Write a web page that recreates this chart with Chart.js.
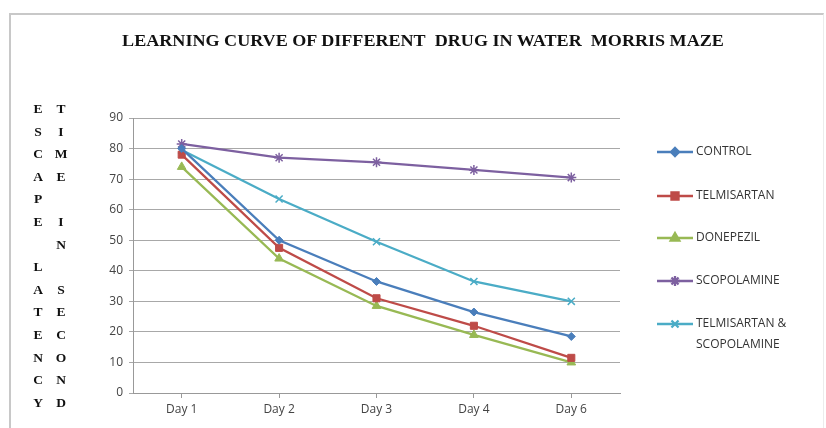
<!DOCTYPE html>
<html lang="en">
<head>
  <meta charset="UTF-8" />
  <title>Learning Curve</title>
  <script src="https://cdn.jsdelivr.net/npm/chart.js"></script>
  <style>
    body { margin: 0; background: #fff; }
    #wrap { position: relative; width: 826px; height: 428px; overflow: hidden; }
    #frame { position: absolute; left: 9px; top: 13px; width: 812px; height: 440px;
      border-left: 2px solid #c8c8c8; border-top: 2px solid #c8c8c8; border-right: 1px solid #ececec; }
    #title { position: absolute; left: 0; width: 846px; top: 32px; text-align: center;
      font: bold 16px "Liberation Serif", "DejaVu Serif", serif; color: #111;
      transform: scaleX(1.13); transform-origin: 423px 0; }
    .ylab { position: absolute; top: 98px; width: 18px; text-align: center;
      font: bold 13.5px "Liberation Serif", serif; line-height: 22.6px; color: #111; white-space: pre; }
  </style>
</head>
<body>
<div id="wrap">
  <div id="frame"></div>
  <canvas id="chart" width="826" height="428" style="position:absolute;left:0;top:0"></canvas>
  <div id="title">LEARNING CURVE OF DIFFERENT&nbsp; DRUG IN WATER&nbsp; MORRIS MAZE</div>
  <div class="ylab" id="ylab1" style="left:29px"></div>
  <div class="ylab" id="ylab2" style="left:52px"></div>
</div>
<script>
  const days = ['Day 1', 'Day 2', 'Day 3', 'Day 4', 'Day 6'];
  const control = [80, 50, 36.5, 26.5, 18.5];
  const telmisartan = [78, 47.5, 31, 22, 11.5];
  const donepezil = [74, 44, 28.5, 19, 10];
  const scopolamine = [81.5, 77, 75.5, 73, 70.5];
  const telmiScop = [79.5, 63.5, 49.5, 36.5, 30];
  const yLabel1 = 'ESCAPE LATENCY';
  const yLabel2 = 'TIME IN SECOND';

  document.getElementById('ylab1').textContent = yLabel1.split('').join('\n');
  document.getElementById('ylab2').textContent = yLabel2.split('').join('\n');

  function series(label, data, color, style, radius) {
    return {
      label, data,
      borderColor: color, backgroundColor: color,
      pointStyle: style, pointRadius: radius, pointBorderWidth: style === 'star' || style === 'crossRot' ? 1.5 : 1,
      borderWidth: 2.3, tension: 0
    };
  }

  // legend drawn on canvas so the last label can wrap over two lines
  const sideLegend = {
    id: 'sideLegend',
    afterDraw(chart) {
      const c = chart.ctx;
      const rows = [152, 196, 238, 281, 324];
      c.save();
      c.font = '12px "Open Sans", sans-serif';
      c.textBaseline = 'middle';
      chart.data.datasets.forEach((ds, i) => {
        const y = rows[i];
        c.strokeStyle = ds.borderColor;
        c.lineWidth = 2.3;
        c.beginPath(); c.moveTo(657, y); c.lineTo(693, y); c.stroke();
        c.fillStyle = ds.borderColor;
        Chart.helpers.drawPoint(c, { pointStyle: ds.pointStyle, radius: ds.pointRadius, borderWidth: 1 }, 675, y);
        c.fillStyle = '#333';
        ds.label.split('\n').forEach((t, j) => c.fillText(t, 696, y + j * 21));
      });
      c.restore();
    }
  };

  new Chart(document.getElementById('chart'), {
    type: 'line',
    data: {
      labels: days,
      datasets: [
        series('CONTROL', control, '#4A7EBB', 'rectRot', 4),
        series('TELMISARTAN', telmisartan, '#BE4B48', 'rect', 5),
        series('DONEPEZIL', donepezil, '#98B954', 'triangle', 5),
        series('SCOPOLAMINE', scopolamine, '#7D60A0', 'star', 5),
        series('TELMISARTAN &\nSCOPOLAMINE', telmiScop, '#4BACC6', 'crossRot', 5)
      ]
    },
    options: {
      responsive: false,
      animation: false,
      layout: { padding: { left: 93, right: 206, top: 118, bottom: 6 } },
      plugins: { legend: { display: false }, tooltip: { enabled: false } },
      scales: {
        x: {
          offset: true,
          afterFit: s => { s.height = 29; },
          grid: { drawOnChartArea: false, color: '#999', tickLength: 5 },
          border: { color: '#999' },
          ticks: { color: '#444', font: { family: 'Open Sans', size: 12 }, padding: 4 }
        },
        y: {
          min: 0, max: 90,
          afterFit: s => { s.width = 40; },
          grid: { color: '#a8a8a8', tickLength: 4 },
          border: { color: '#999' },
          ticks: { stepSize: 10, color: '#444', font: { family: 'Open Sans', size: 12 }, padding: 6 }
        }
      }
    },
    plugins: [sideLegend]
  });
</script>
</body>
</html>
